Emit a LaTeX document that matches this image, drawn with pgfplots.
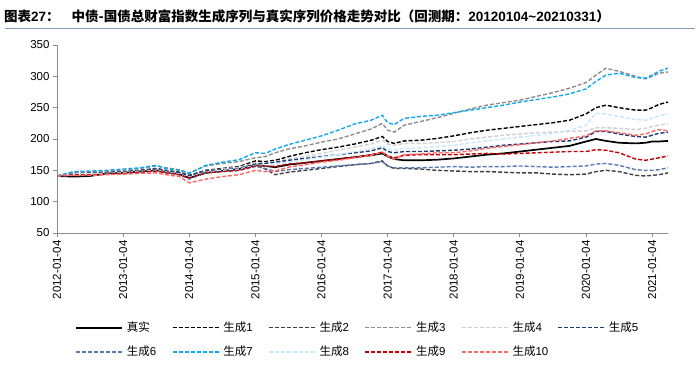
\documentclass[border=0pt]{standalone}
\usepackage{pgfplots}
\pgfplotsset{compat=1.18}
\usepackage{pgfplotstable}
\usepackage{fontspec}
\setmainfont{Liberation Sans}
\newfontfamily\cjk{Noto Sans CJK SC}
\definecolor{cA}{HTML}{000000}
\definecolor{cB}{HTML}{404040}
\definecolor{cC}{HTML}{8C8C8C}
\definecolor{cD}{HTML}{D0D0D0}
\definecolor{cE}{HTML}{1F3A70}
\definecolor{cF}{HTML}{5A7BB0}
\definecolor{cG}{HTML}{12A8EE}
\definecolor{cH}{HTML}{C5E8FA}
\definecolor{cI}{HTML}{C00000}
\definecolor{cJ}{HTML}{FF6666}
\definecolor{rule}{HTML}{7F9DB9}
\pgfplotstableread{
x real g1 g2 g3 g4 g5 g6 g7 g8 g9 g10
2012.00 141 141 141 141 141 141 141 141 141 141 141
2012.25 140 145 145 147 145 145 144 148 144 143 142
2012.50 141 146 145 148 145 145 144 149 145 143 142
2012.75 145 147 146 149 146 146 145 150 145 144 143
2013.00 146 148 147 150 147 147 146 152 146 145 144
2013.25 148 150 149 153 149 149 148 154 148 147 145
2013.50 150 153 151 157 152 152 150 158 150 149 146
2013.65 147 150 148 154 149 149 147 153 147 146 143
2013.85 144 147 145 151 146 146 143 150 144 143 140
2014.00 138 142 140 146 141 141 136 145 139 138 130
2014.25 146 150 148 157 149 149 146 158 147 146 136
2014.50 149 153 150 161 152 151 148 163 150 148 140
2014.75 152 156 153 164 155 153 150 167 152 150 143
2015.00 158 165 160 170 162 160 156 178 158 157 150
2015.15 157 164 152 172 162 161 153 177 157 157 148
2015.30 155 166 143 178 164 163 148 184 159 156 149
2015.50 159 172 147 184 168 166 151 191 163 160 155
2015.75 162 178 150 189 172 169 153 198 167 162 159
2016.00 165 183 153 195 177 172 155 205 171 165 163
2016.25 168 187 156 200 182 175 157 214 175 168 166
2016.50 171 192 159 208 187 178 159 224 180 171 170
2016.75 174 198 161 216 192 181 161 230 184 175 174
2016.92 177 204 165 225 198 186 164 238 189 179 179
2017.00 172 196 157 214 192 180 157 226 184 173 172
2017.10 168 193 153 211 190 178 154 223 182 170 168
2017.25 166 197 153 222 193 180 154 233 185 174 175
2017.50 166 198 152 228 193 180 154 236 186 175 176
2017.75 167 201 150 234 194 181 155 238 188 175 178
2018.00 169 205 149 241 196 182 156 242 190 175 178
2018.25 172 210 148 248 200 184 155 246 194 176 181
2018.50 175 214 148 254 203 187 156 250 197 177 185
2018.75 177 217 147 258 206 190 156 254 200 176 188
2019.00 180 220 146 262 208 192 157 259 203 177 191
2019.25 183 223 146 268 210 194 156 263 206 178 194
2019.50 186 226 144 274 211 196 155 267 209 179 197
2019.75 189 230 143 281 212 197 156 272 214 180 201
2020.00 196 240 144 290 213 203 157 280 222 180 205
2020.15 200 250 148 302 218 212 160 292 241 183 213
2020.30 197 254 150 313 218 212 161 302 240 182 213
2020.50 194 250 148 308 217 208 158 305 236 178 210
2020.75 193 246 142 300 215 204 151 298 231 168 206
2020.90 194 246 141 296 217 203 150 297 230 166 208
2021.00 196 250 142 300 220 206 150 302 233 168 212
2021.10 196 255 143 305 222 209 151 308 237 170 215
2021.24 197 259 146 307 224 211 154 313 240 173 213
}\data
\begin{document}
\begin{tikzpicture}
\path[use as bounding box] (0pt,0pt) rectangle (700pt,368pt);
\node[anchor=base west, inner sep=0pt] at (4pt,347pt) {\fontsize{13.5}{15}\selectfont\bfseries\cjk 图表{\rmfamily 27}：\hspace{12pt}中债-国债总财富指数生成序列与真实序列价格走势对比（回测期：{\rmfamily 20120104\textasciitilde20210331}）};
\draw[rule, line width=1pt] (5pt,340pt) -- (695pt,340pt);
\begin{axis}[
  at={(57pt,135pt)}, anchor=south west,
  scale only axis, width=611pt, height=188pt,
  xmin=2012, xmax=2021.24, ymin=50, ymax=350,
  ytick={50,100,...,350},
  xtick={2012,2013,...,2021},
  xticklabels={2012-01-04,2013-01-04,2014-01-04,2015-01-04,2016-01-04,2017-01-04,2018-01-04,2019-01-04,2020-01-04,2021-01-04},
  xticklabel style={rotate=90, anchor=east, font=\fontsize{11.5}{13}\selectfont},
  yticklabel style={font=\fontsize{11.5}{13}\selectfont},
  /pgf/number format/assume math mode=true,
  axis x line*=bottom, axis y line*=left,
  axis line style={draw=gray!90, line width=0.8pt, -},
  tick style={draw=gray!90, line width=0.8pt},
  tick align=outside, major tick length=4pt,
  legend columns=6,
  legend image code/.code={\draw[#1] (0pt,0pt) -- (46pt,0pt);},
  legend style={at={(0.0295,-0.462)}, anchor=north west, draw=none, inner sep=0pt,
    row sep=9pt, nodes={text width=38pt, inner xsep=4pt, align=left, font=\fontsize{11.5}{13}\selectfont},
    /tikz/every even column/.append style={column sep=3pt}},
  every axis plot/.append style={line width=1.4pt, dash pattern=on 4pt off 2pt},
]
\addplot[cA, solid, line width=1.7pt] table[x=x, y=real] {\data};
\addlegendentry{\cjk 真实}
\addplot[cA] table[x=x, y=g1] {\data};
\addlegendentry{{\cjk 生成}1}
\addplot[cB] table[x=x, y=g2] {\data};
\addlegendentry{{\cjk 生成}2}
\addplot[cC] table[x=x, y=g3] {\data};
\addlegendentry{{\cjk 生成}3}
\addplot[cD] table[x=x, y=g4] {\data};
\addlegendentry{{\cjk 生成}4}
\addplot[cE] table[x=x, y=g5] {\data};
\addlegendentry{{\cjk 生成}5}
\addplot[cF] table[x=x, y=g6] {\data};
\addlegendentry{{\cjk 生成}6}
\addplot[cG] table[x=x, y=g7] {\data};
\addlegendentry{{\cjk 生成}7}
\addplot[cH] table[x=x, y=g8] {\data};
\addlegendentry{{\cjk 生成}8}
\addplot[cI] table[x=x, y=g9] {\data};
\addlegendentry{{\cjk 生成}9}
\addplot[cJ] table[x=x, y=g10] {\data};
\addlegendentry{{\cjk 生成}10}
\end{axis}
\end{tikzpicture}
\end{document}
